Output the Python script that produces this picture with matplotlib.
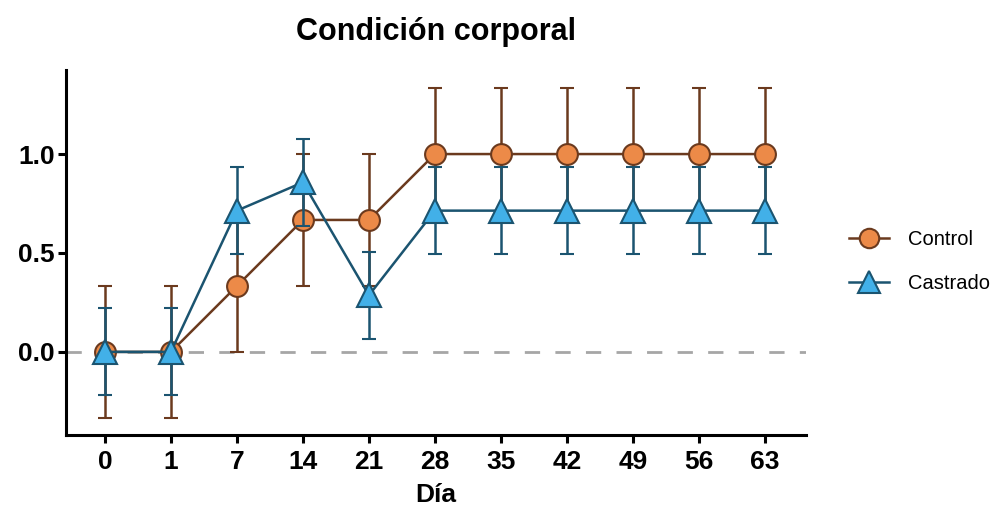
import numpy as np
import matplotlib
matplotlib.use('Agg')
import matplotlib.pyplot as plt
from matplotlib.lines import Line2D

dias = ['0', '1', '7', '14', '21', '28', '35', '42', '49', '56', '63']
control = [0, 0, 0.333, 0.667, 0.667, 1, 1, 1, 1, 1, 1]
control_err = [0.333] * 11
castrado = [0, 0, 0.714, 0.857, 0.286, 0.714, 0.714, 0.714, 0.714, 0.714, 0.714]
castrado_err = [0.22] * 11

plt.rcParams['font.family'] = ['Liberation Sans', 'DejaVu Sans']

fig = plt.figure(figsize=(9.97, 5.16), dpi=100)
ax = fig.add_axes([0.0662, 0.157, 0.742, 0.707])

x = np.arange(len(dias))
ax.axhline(0, color='#a6a6a6', lw=2.0, dashes=(5.5, 5.5), zorder=1)

ctrl_style = dict(color='#6b3a1e', lw=1.8, marker='o', ms=15, mfc='#ec8a48',
                  mec='#6b3a1e', mew=1.5)
cast_style = dict(color='#1b5470', lw=1.8, marker='^', ms=17, mfc='#42b0e8',
                  mec='#1b5470', mew=1.5)

ax.errorbar(x, control, yerr=control_err, capsize=4.7, capthick=1.8,
            elinewidth=1.8, zorder=3, **ctrl_style)
ax.errorbar(x, castrado, yerr=castrado_err, capsize=4.7, capthick=1.8,
            elinewidth=1.8, zorder=4, **cast_style)

ax.set_xlim(-0.59, 10.62)
ax.set_ylim(-0.42, 1.424)
ax.set_xticks(x)
ax.set_xticklabels(dias)
ax.set_yticks([0, 0.5, 1.0])
ax.set_yticklabels(['0.0', '0.5', '1.0'])

for s in ['top', 'right']:
    ax.spines[s].set_visible(False)
for s in ['left', 'bottom']:
    ax.spines[s].set_linewidth(2.2)
ax.tick_params(width=2.2, length=6, labelsize=19)
ax.tick_params(axis='y', pad=2)
ax.tick_params(axis='x', pad=5)
for lab in ax.get_xticklabels() + ax.get_yticklabels():
    lab.set_fontweight('bold')

ax.set_xlabel('Día', fontsize=19, fontweight='bold', labelpad=6)
ax.set_title('Condición corporal', fontsize=22, fontweight='bold', pad=22)

handles = [Line2D([], [], **dict(ctrl_style, ms=14)),
           Line2D([], [], **dict(cast_style, ms=16))]
ax.legend(handles, ['Control', 'Castrado'], loc='center left',
          bbox_to_anchor=(1.045, 0.475), frameon=False, fontsize=14.5,
          handlelength=2.0, labelspacing=1.25, handletextpad=0.9, borderpad=0)

fig.savefig('out.png', dpi=100)
